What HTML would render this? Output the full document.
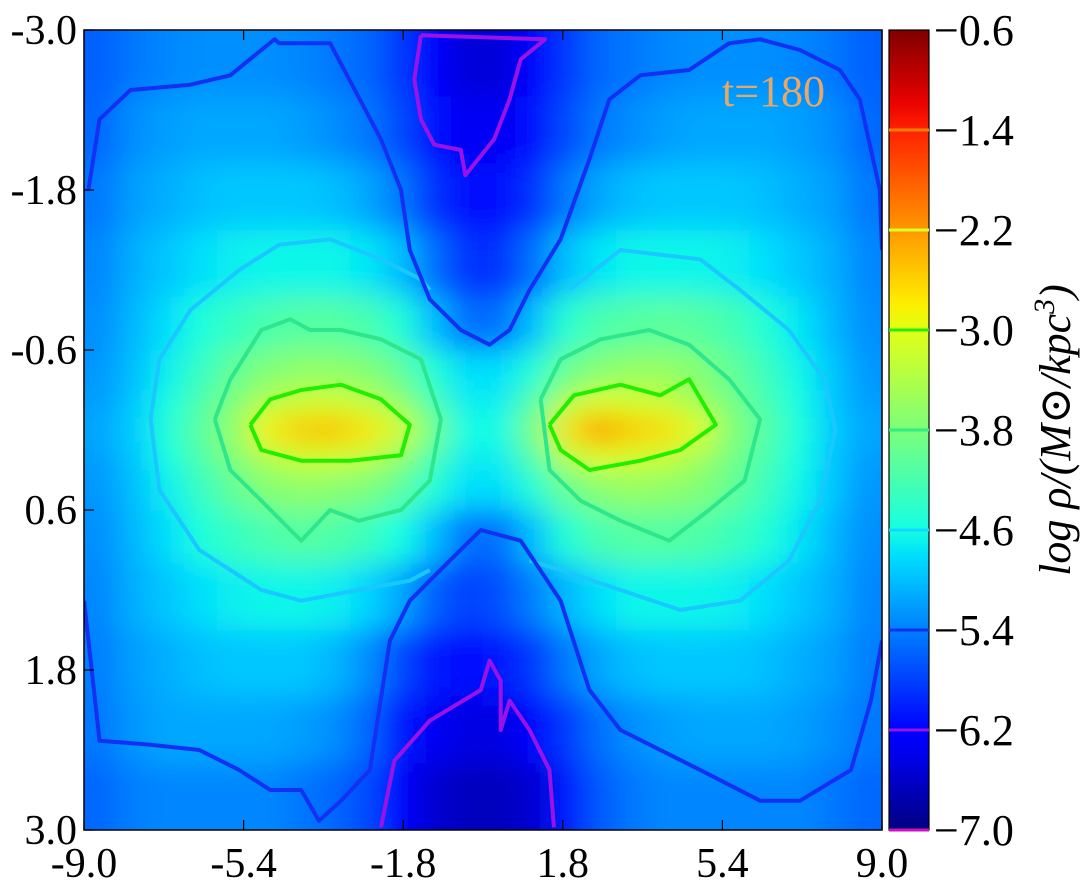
<!DOCTYPE html>
<html><head><meta charset="utf-8">
<style>
html,body{margin:0;padding:0;background:#fff;}
svg{display:block;}
text{font-family:"Liberation Serif","DejaVu Serif",serif;fill:#000;}
</style></head>
<body>
<svg id="chart" width="1088" height="886" viewBox="0 0 1088 886" xmlns="http://www.w3.org/2000/svg">
<defs>
<clipPath id="plotclip"><rect x="84" y="30" width="798" height="800"/></clipPath>
<filter id="blur" x="-10%" y="-10%" width="120%" height="120%"><feGaussianBlur stdDeviation="14"/></filter>
<linearGradient id="jetgrad" x1="0" y1="1" x2="0" y2="0"></linearGradient>
</defs>
<g id="heat" clip-path="url(#plotclip)"><g id="cells" filter="url(#blur)"></g></g>
<g id="contours" clip-path="url(#plotclip)"></g>
<rect x="84" y="30" width="798" height="800" fill="none" stroke="#000" stroke-width="1.5"/>
<g id="axes"></g>
<text x="722" y="106" font-size="44" style="fill:#e8a864">t=180</text>
<rect id="cbar" x="889" y="30" width="40" height="800" fill="url(#jetgrad)" stroke="#000" stroke-width="1.2"/>
<g id="cbarticks"></g>
<text transform="translate(1070,430) rotate(-90)" text-anchor="middle" font-size="44" font-style="italic">log ρ/(M<tspan font-style="normal">⊙</tspan>/kpc<tspan dy="-16" font-size="30">3</tspan><tspan dy="16">)</tspan></text>
</svg>
<script>
// ---- data ----
const xEdges = [-9,-8.25,-7.5,-6.75,-6,-5.25,-4.5,-3.75,-3,-2.25,-1.5,-0.75,0,0.75,1.5,2.25,3,3.75,4.5,5.25,6,6.75,7.5,8.25,9];
const yEdges = [-3,-2.5,-2,-1.5,-1,-0.6,-0.3,-0.1,0.1,0.3,0.6,1,1.5,2,2.5,3];
const row0  = [-5.6,-5.45,-5.35,-5.3,-5.3,-5.3,-5.35,-5.45,-5.55,-5.85,-6.3,-6.5, -6.5,-6.3,-5.85,-5.55,-5.45,-5.35,-5.3,-5.3,-5.3,-5.35,-5.45,-5.6];
const row1  = [-5.55,-5.3,-5.2,-5.15,-5.15,-5.15,-5.2,-5.3,-5.45,-5.75,-6.1,-6.35, -6.35,-6.1,-5.75,-5.45,-5.3,-5.2,-5.15,-5.15,-5.15,-5.2,-5.3,-5.55];
const row2  = [-5.45,-5.2,-5.1,-5.0,-4.95,-4.95,-4.95,-5.0,-5.15,-5.45,-5.9,-6.1, -6.1,-5.9,-5.45,-5.15,-5.0,-4.95,-4.95,-4.95,-5.0,-5.1,-5.2,-5.45];
const row3  = [-5.35,-5.1,-4.95,-4.8,-4.7,-4.65,-4.65,-4.65,-4.75,-5.0,-5.5,-5.9, -5.9,-5.5,-5.0,-4.75,-4.65,-4.65,-4.65,-4.7,-4.8,-4.95,-5.1,-5.35];
const row4  = [-5.3,-5.05,-4.8,-4.55,-4.35,-4.2,-4.1,-4.1,-4.2,-4.5,-5.0,-5.5, -5.5,-5.0,-4.45,-4.2,-4.1,-4.05,-4.1,-4.25,-4.5,-4.75,-5.05,-5.3];
const row5  = [-5.25,-5.0,-4.7,-4.35,-4.0,-3.75,-3.65,-3.65,-3.75,-4.0,-4.5,-4.8, -4.8,-4.5,-3.95,-3.7,-3.6,-3.6,-3.75,-4.0,-4.3,-4.65,-4.95,-5.25];
const row6  = [-5.2,-4.95,-4.6,-4.15,-3.75,-3.35,-3.15,-3.1,-3.25,-3.6,-4.2,-4.7, -4.7,-4.1,-3.35,-3.0,-3.1,-3.2,-3.5,-3.85,-4.2,-4.6,-4.95,-5.2];
const row7  = [-5.15,-4.9,-4.5,-4.05,-3.6,-2.8,-2.5,-2.45,-2.7,-3.1,-3.8,-4.6, -4.6,-3.8,-2.7,-2.15,-2.5,-2.65,-3.0,-3.7,-4.1,-4.55,-4.9,-5.15];
const row8  = [-5.2,-4.95,-4.6,-4.15,-3.75,-3.35,-3.15,-3.1,-3.25,-3.6,-4.2,-4.7, -4.7,-4.1,-3.35,-3.0,-3.1,-3.2,-3.5,-3.85,-4.2,-4.6,-4.95,-5.2];
const row9  = [-5.25,-5.0,-4.7,-4.35,-4.0,-3.75,-3.65,-3.7,-3.8,-4.05,-4.5,-4.8, -4.8,-4.5,-3.95,-3.7,-3.6,-3.65,-3.75,-4.0,-4.3,-4.65,-4.95,-5.25];
const row10 = [-5.3,-5.05,-4.8,-4.55,-4.35,-4.2,-4.1,-4.15,-4.3,-4.6,-5.0,-5.5, -5.5,-5.0,-4.5,-4.2,-4.1,-4.1,-4.15,-4.3,-4.5,-4.75,-5.05,-5.3];
const row11 = [-5.35,-5.1,-4.95,-4.8,-4.7,-4.65,-4.65,-4.7,-4.85,-5.15,-5.6,-5.8, -5.7,-5.4,-5.05,-4.8,-4.65,-4.65,-4.65,-4.7,-4.8,-4.95,-5.1,-5.35];
const row12 = [-5.4,-5.2,-5.1,-5.0,-4.95,-4.95,-4.95,-5.05,-5.3,-5.75,-6.05,-6.15, -6.05,-5.85,-5.45,-5.15,-5.0,-4.95,-4.95,-4.95,-5.0,-5.1,-5.2,-5.4];
const row13 = [-5.45,-5.25,-5.15,-5.15,-5.15,-5.15,-5.2,-5.3,-5.55,-6.05,-6.35,-6.45, -6.45,-6.25,-5.85,-5.5,-5.3,-5.2,-5.15,-5.15,-5.15,-5.2,-5.3,-5.45];
const row14 = [-5.55,-5.4,-5.35,-5.35,-5.35,-5.35,-5.45,-5.55,-5.75,-6.25,-6.55,-6.65, -6.65,-6.55,-6.05,-5.65,-5.45,-5.35,-5.35,-5.35,-5.35,-5.35,-5.45,-5.55];
const gridRows = [row0,row1,row2,row3,row4,row5,row6,row7,row8,row9,row10,row11,row12,row13,row14];

const xTickLabels = ["-9.0","-5.4","-1.8","1.8","5.4","9.0"];
const yTickLabels = ["-3.0","-1.8","-0.6","0.6","1.8","3.0"];
const cbarTickLabels = ["−0.6","−1.4","−2.2","−3.0","−3.8","−4.6","−5.4","−6.2","−7.0"];
const contourLevels = [-1.4,-2.2,-3.0,-3.8,-4.6,-5.4,-6.2,-7.0];

const contBlueTop = [[-8.9,-1.8],[-8.65,-2.33],[-7.95,-2.55],[-6.6,-2.59],[-5.7,-2.66],[-5.0,-2.85],[-4.7,-2.93],[-4.6,-2.9],[-3.45,-2.9],[-2.3,-2.18],[-1.85,-1.8],[-1.65,-1.35],[-1.2,-0.98],[-0.5,-0.75],[0.15,-0.64],[0.6,-0.75],[1.05,-1.05],[1.75,-1.43],[2.4,-2.03],[2.85,-2.48],[3.55,-2.66],[4.65,-2.7],[5.55,-2.9],[6.25,-2.93],[7.15,-2.85],[8.05,-2.7],[8.5,-2.48],[8.95,-1.8],[9.0,-1.35]];
const contBlueBot = [[-9.0,1.28],[-8.75,2.03],[-8.65,2.33],[-7.5,2.36],[-6.4,2.4],[-5.5,2.55],[-4.8,2.7],[-4.1,2.7],[-3.7,2.93],[-3.2,2.78],[-2.55,2.55],[-2.1,1.58],[-1.65,1.28],[-0.75,0.98],[-0.05,0.75],[0.85,0.83],[1.75,1.28],[2.4,1.95],[3.1,2.25],[4.9,2.55],[6.25,2.78],[7.15,2.78],[8.3,2.55],[8.75,2.03],[9.0,1.58]];
const contPurpleTop = [[-1.4,-2.96],[1.4,-2.93],[0.85,-2.78],[0.6,-2.48],[0.25,-2.18],[-0.4,-1.91],[-0.5,-2.1],[-1.1,-2.14],[-1.4,-2.33],[-1.55,-2.63],[-1.4,-2.96]];
const contPurpleBot = [[-2.3,2.98],[-2.0,2.48],[-1.2,2.18],[-0.05,1.95],[0.15,1.73],[0.4,1.88],[0.4,2.25],[0.6,2.03],[1.05,2.25],[1.5,2.55],[1.6,2.98]];
const contCyanL = [[-1.2,-1.05],[-1.4,-1.13],[-2.3,-1.28],[-3.45,-1.43],[-4.6,-1.39],[-5.5,-1.2],[-6.6,-0.9],[-7.3,-0.53],[-7.5,-0.08],[-7.3,0.45],[-6.4,0.9],[-5.0,1.2],[-4.1,1.28],[-2.8,1.2],[-1.65,1.13],[-1.2,1.05]];
const contCyanR = [[1.95,-1.05],[3.1,-1.35],[4.9,-1.28],[5.8,-1.05],[6.9,-0.75],[7.7,-0.38],[7.95,0],[7.6,0.53],[6.9,0.98],[5.8,1.28],[4.45,1.35],[3.1,1.2],[1.75,1.05],[1.05,0.98]];
const contTealL = [[-6.05,-0.08],[-5.7,-0.38],[-5.0,-0.75],[-4.35,-0.83],[-3.9,-0.75],[-3.2,-0.75],[-2.3,-0.68],[-1.4,-0.53],[-0.95,-0.08],[-1.2,0.38],[-1.85,0.6],[-2.8,0.68],[-3.45,0.6],[-4.1,0.83],[-5.0,0.53],[-5.7,0.3],[-6.05,-0.08]];
const contTealR = [[1.3,-0.23],[1.75,-0.53],[2.65,-0.68],[3.75,-0.75],[4.65,-0.64],[5.55,-0.38],[6.25,-0.08],[5.9,0.38],[5.1,0.6],[4.2,0.83],[3.1,0.68],[2.2,0.53],[1.5,0.3],[1.3,-0.23]];
const contGreenL = [[-5.25,-0.04],[-4.8,-0.23],[-4.1,-0.3],[-3.2,-0.34],[-2.3,-0.23],[-1.65,-0.04],[-1.85,0.19],[-3.0,0.23],[-4.1,0.23],[-5.0,0.15],[-5.25,-0.04]];
const contGreenR = [[1.5,-0.04],[2.05,-0.26],[3.1,-0.34],[4.0,-0.26],[4.65,-0.38],[5.25,-0.04],[4.45,0.15],[3.55,0.23],[2.4,0.3],[1.75,0.15],[1.5,-0.04]];

// ---- scales ----
const PX0=84, PX1=882, PY0=30, PY1=830;
const sx = v => PX0 + (v+9)/18*(PX1-PX0);
const sy = v => PY0 + (v+3)/6*(PY1-PY0);
const CMIN=-7, CMAX=-0.6;
const sc = v => PY1 - (v-CMIN)/(CMAX-CMIN)*(PY1-PY0);
function interp(pts,t){for(let i=1;i<pts.length;i++){if(t<=pts[i][0]){const a=pts[i-1],b=pts[i];return a[1]+(b[1]-a[1])*(t-a[0])/(b[0]-a[0]);}}return pts[pts.length-1][1];}
const JR=[[0,0],[0.35,0],[0.66,1],[0.89,1],[1,0.5]];
const JG=[[0,0],[0.125,0],[0.375,1],[0.64,1],[0.91,0],[1,0]];
const JB=[[0,0.5],[0.11,1],[0.34,1],[0.65,0],[1,0]];
function jet(v){let t=(v-CMIN)/(CMAX-CMIN);t=Math.max(0,Math.min(1,t));
 return `rgb(${Math.round(interp(JR,t)*255)},${Math.round(interp(JG,t)*255)},${Math.round(interp(JB,t)*255)})`;}
const NS="http://www.w3.org/2000/svg";
function mk(tag,attrs,parent){const e=document.createElementNS(NS,tag);for(const k in attrs)e.setAttribute(k,attrs[k]);parent.appendChild(e);return e;}

// ---- heatmap ----
const cellsG=document.getElementById('cells');
gridRows.forEach((row,ri)=>{
  row.forEach((v,ci)=>{
    let x0=sx(xEdges[ci]),x1=sx(xEdges[ci+1]),y0=sy(yEdges[ri]),y1=sy(yEdges[ri+1]);
    if(ci===0)x0-=50; if(ci===row.length-1)x1+=50;
    if(ri===0)y0-=50; if(ri===gridRows.length-1)y1+=50;
    const r=mk('rect',{x:x0,y:y0,width:x1-x0+0.5,height:y1-y0+0.5,fill:jet(v)},cellsG);
    
    
  });
});

// ---- contours ----
const contG=document.getElementById('contours');
function contour(pts,color,name){
  const d=pts.map((p,i)=>(i?'L':'M')+sx(p[0]).toFixed(1)+','+sy(p[1]).toFixed(1)).join(' ');
  const p=mk('path',{d:d,fill:'none',stroke:color,'stroke-width':4,'stroke-linejoin':'round'},contG);
  
  
}
contour(contCyanL,'#19c8ff','contour-minus-4.6-left');
contour(contCyanR,'#19c8ff','contour-minus-4.6-right');
contour(contTealL,'#2ee68c','contour-minus-3.8-left');
contour(contTealR,'#2ee68c','contour-minus-3.8-right');
contour(contGreenL,'#22ee00','contour-minus-3.0-left');
contour(contGreenR,'#22ee00','contour-minus-3.0-right');
contour(contBlueTop,'#1530f5','contour-minus-5.4-top');
contour(contBlueBot,'#1530f5','contour-minus-5.4-bottom');
contour(contPurpleTop,'#9b12e6','contour-minus-6.2-top');
contour(contPurpleBot,'#9b12e6','contour-minus-6.2-bottom');

// ---- axes ----
const axG=document.getElementById('axes');
xTickLabels.forEach((lab,i)=>{
  const v=parseFloat(lab), x=sx(v);
  const t=mk('line',{x1:x,y1:PY1,x2:x,y2:PY1-10,stroke:'#000','stroke-width':1.2},axG);
  
  
  const t2=mk('line',{x1:x,y1:PY0,x2:x,y2:PY0+10,stroke:'#000','stroke-width':1.2},axG);
  
  
  const tx=mk('text',{x:x,y:877,'text-anchor':'middle','font-size':42},axG);
  tx.textContent=lab;
  
  
});
yTickLabels.forEach((lab,i)=>{
  const v=parseFloat(lab), y=sy(v);
  const t=mk('line',{x1:PX0,y1:y,x2:PX0+10,y2:y,stroke:'#000','stroke-width':1.2},axG);
  
  
  const tx=mk('text',{x:77,y:y+14,'text-anchor':'end','font-size':42},axG);
  tx.textContent=lab;
  
  
});

// ---- colorbar ----
const grad=document.getElementById('jetgrad');
for(let i=0;i<=32;i++){
  mk('stop',{offset:(i/32).toFixed(4),'stop-color':jet(CMIN+(CMAX-CMIN)*i/32)},grad);
}
const cbG=document.getElementById('cbarticks');
const lvlColors=['#ff8000','#d8ff20','#20f000','#30ee80','#10d8ff','#1530f5','#9b12e6','#d010c0'];
contourLevels.forEach((lv,i)=>{
  const y=sc(lv);
  const l=mk('line',{x1:889,y1:y,x2:929,y2:y,stroke:lvlColors[i],'stroke-width':3},cbG);
  
  
});
cbarTickLabels.forEach((lab,i)=>{
  const v=parseFloat(lab.replace('−','-')), y=sc(v);
  const tx=mk('text',{x:934,y:y+15,'font-size':44},cbG);
  tx.textContent=lab;
  
  
});
</script>
</body></html>
